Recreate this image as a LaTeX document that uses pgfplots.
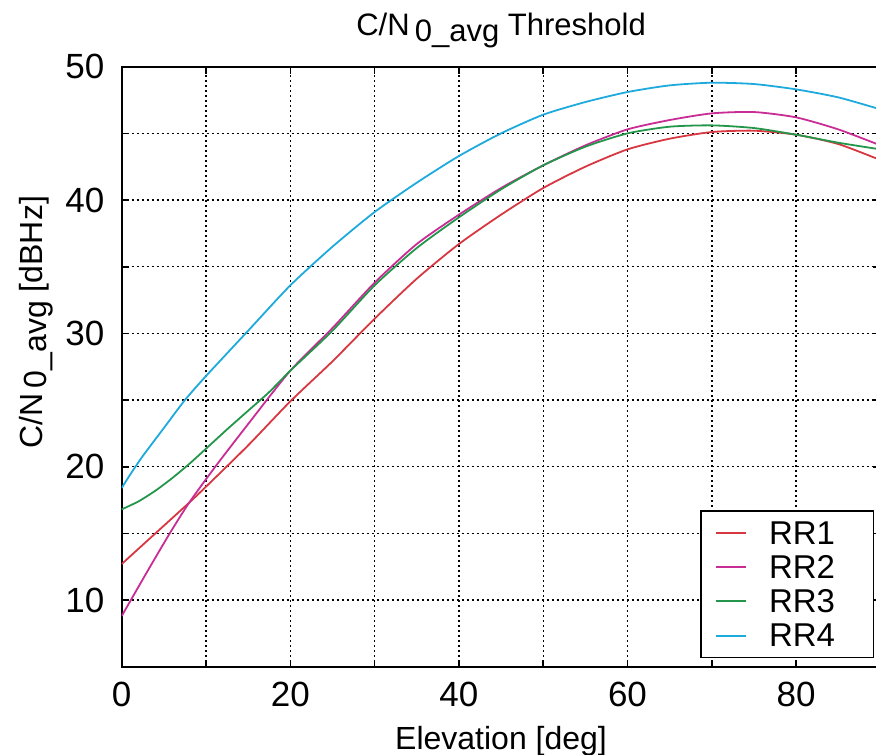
\documentclass[border=0pt]{standalone}
\usepackage{pgfplots}
\pgfplotsset{compat=1.18}
\usepackage{fontspec}
\setmainfont{Liberation Sans}
\definecolor{cA}{RGB}{215,55,65}
\definecolor{cB}{RGB}{200,45,150}
\definecolor{cC}{RGB}{35,150,75}
\definecolor{cD}{RGB}{30,170,220}
\begin{document}
\begin{tikzpicture}
\begin{axis}[
  scale only axis, width=379.35pt, height=300pt,
  xmin=0, xmax=90, ymin=5, ymax=50,
  xtick={0,20,40,60,80}, minor xtick={10,30,50,70,90},
  ytick={10,20,30,40,50}, minor ytick={5,15,25,35,45},
  grid=both,
  major grid style={black, line width=0.7pt, dash pattern=on 1pt off 1.5pt},
  minor grid style={black, line width=0.7pt, dash pattern=on 1pt off 1.5pt},
  tick align=inside, major tick length=3.5pt, minor tick length=3.5pt,
  every tick/.style={black, line width=0.8pt},
  every minor tick/.style={black, line width=0.8pt},
  axis line style={line width=1pt},
  /pgf/number format/assume math mode=true,
  ticklabel style={font=\fontsize{17.5}{20}\selectfont},
  yticklabel style={inner sep=0pt, xshift=-8.5pt},
  xticklabel style={inner sep=0pt, yshift=-7.7pt},
  label style={font=\fontsize{16}{19}\selectfont},
  xlabel={Elevation [deg]},
  xlabel style={at={(axis description cs:0.5,0)}, anchor=base, yshift=-41.2pt},
  ylabel={C/N\,\raisebox{-2pt}{0\_avg} [dBHz]},
  ylabel style={at={(axis description cs:-0.105,0.574)}, anchor=base},
  title={C/N\,\raisebox{-3pt}{0\_avg} Threshold},
  title style={font=\fontsize{15.5}{18}\selectfont, at={(axis description cs:0.5,1)}, anchor=base, yshift=9.4pt},
  legend image code/.code={\draw[#1,line width=1pt] (0pt,0pt) -- (15pt,0pt); \path (26pt,0pt);},
  legend style={at={(axis description cs:1,0)}, anchor=south east, xshift=-3.05pt, yshift=4.2pt,
    draw=black, line width=0.8pt, fill=white, inner xsep=7pt, inner ysep=5.3pt,
    row sep=5.8pt, column sep=0pt,
    nodes={inner sep=0pt, text height=11.3pt, text depth=0pt, font=\fontsize{16.5}{19}\selectfont}},
  legend cell align=left,
  every axis plot/.append style={line width=0.9pt, smooth, tension=0.4},
]
\addplot[cA] coordinates {(0,12.7)(4,15.0)(8,17.3)(10,18.5)(15,21.6)(20,24.9)(25,27.9)(30,31.1)(35,34.1)(40,36.7)(45,38.9)(50,40.9)(55,42.5)(60,43.8)(65,44.6)(70,45.1)(75,45.2)(80,44.9)(85,44.2)(90,43.0)};
\addlegendentry{RR1\hspace*{12.2pt}}
\addplot[cB] coordinates {(0,8.8)(3,12.1)(5.7,15.0)(8,17.3)(11.1,20.0)(15,23.2)(20,27.2)(25,30.4)(30,33.8)(35,36.7)(40,38.9)(45,40.9)(50,42.6)(55,44.1)(60,45.3)(65,46.0)(70,46.5)(75,46.6)(80,46.2)(85,45.3)(90,44.1)};
\addlegendentry{RR2\hspace*{12.2pt}}
\addplot[cC] coordinates {(0,16.8)(2,17.4)(4,18.2)(6,19.15)(8,20.2)(10,21.35)(12.5,22.8)(15,24.2)(17.5,25.6)(20,27.2)(25,30.2)(30,33.6)(35,36.4)(40,38.7)(45,40.8)(50,42.6)(55,44.0)(60,45.0)(65,45.5)(70,45.6)(75,45.4)(80,44.9)(85,44.3)(90,43.8)};
\addlegendentry{RR3\hspace*{12.2pt}}
\addplot[cD] coordinates {(0,18.4)(1,19.4)(2.5,20.8)(5,22.9)(7.5,25.0)(10,26.8)(15,30.2)(20,33.6)(25,36.5)(30,39.1)(35,41.3)(40,43.3)(45,45.0)(50,46.4)(55,47.35)(60,48.1)(65,48.6)(70,48.8)(75,48.7)(80,48.3)(85,47.7)(90,46.8)};
\addlegendentry{RR4\hspace*{12.2pt}}
\end{axis}
\pgfresetboundingbox
\path ([shift={(-60.85pt,-43.65pt)}]current axis.south west) rectangle ([shift={(-2.2pt,33.35pt)}]current axis.north east);
\end{tikzpicture}
\end{document}
